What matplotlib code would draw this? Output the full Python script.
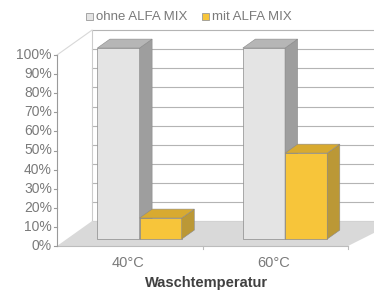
import numpy as np
import matplotlib.pyplot as plt
from matplotlib.patches import Polygon, Rectangle

plt.rcParams['font.family'] = ['Liberation Sans', 'DejaVu Sans']

# data
categories = ['40°C', '60°C']
ohne = [100, 100]
mit = [11, 45]
series_names = ['ohne ALFA MIX', 'mit ALFA MIX']
yticks = list(range(0, 101, 10))

# fake 3d: full depth shift (x in category units, y in percent)
DX, DY = 0.24, 13.0
Z0, Z1 = 0.28, 0.64  # bar depth range
W = 0.29

face = {'grey': ('#e4e4e4', '#b6b6b6', '#9e9e9e'),
        'yellow': ('#f7c53a', '#d8aa30', '#bb9836')}


def P(x, y, z):
    return (x + z * DX, y + z * DY)


fig = plt.figure(figsize=(3.74, 2.9), dpi=100)
ax = fig.add_axes([57 / 374, 44 / 290, 291 / 374, 191 / 290])
ax.set_xlim(-0.5, 1.5)
ax.set_ylim(0, 100)
ax.axis('off')

x0, x1 = -0.5, 1.5
# back wall
wall = Polygon([P(x0, 0, 1), P(x1 + 0.1, 0, 1), P(x1 + 0.1, 100, 1), P(x0, 100, 1)],
               closed=True, fc='white', ec='none', clip_on=False, zorder=0)
ax.add_patch(wall)
for t in yticks:
    xa, ya = P(x0, t, 1)
    xb, yb = P(x1 + 0.1, t, 1)
    ax.plot([xa, xb], [ya, yb], color='#b4b4b4', lw=0.8, clip_on=False, zorder=1)
xa, ya = P(x0, 0, 1)
xb, yb = P(x0, 100, 1)
ax.plot([xa, xb], [ya, yb], color='#cccccc', lw=0.8, clip_on=False, zorder=1)
# left top edge
ax.plot([x0, P(x0, 100, 1)[0]], [100, P(x0, 100, 1)[1]], color='#d8d8d8', lw=0.8,
        clip_on=False, zorder=1)

# floor
floor = Polygon([P(x0, 0, 0), P(x1, 0, 0), P(x1 + 0.1, 0, 1), P(x0, 0, 1)],
                closed=True, fc='#d9d9d9', ec='none', clip_on=False, zorder=1)
ax.add_patch(floor)

# front axis
ax.plot([x0, x0], [0, 100], color='#9a9a9a', lw=0.8, clip_on=False, zorder=2)
ax.plot([x0, x1], [0, 0], color='#bcbcbc', lw=0.8, clip_on=False, zorder=2)
for t in yticks:
    ax.plot([x0 - 0.02, x0], [t, t], color='#9a9a9a', lw=0.8, clip_on=False)
    ax.text(x0 - 0.035, t, f'{t}%', ha='right', va='center', fontsize=10,
            color='#7a7a7a')
for i, c in enumerate(categories):
    ax.text(i - 0.01, -5.0, c, ha='center', va='top', fontsize=10.5, color='#7a7a7a')
ax.plot([0.5, 0.5], [0, -1.5], color='#bcbcbc', lw=0.8, clip_on=False)
ax.plot([x1, x1], [0, -1.5], color='#bcbcbc', lw=0.8, clip_on=False)
ax.text(0.53, -15.5, 'Waschtemperatur', ha='center', va='top', fontsize=10.5,
        fontweight='bold', color='#404040')


def bar3d(xs, vals, cols, z):
    fr, tp, sd = cols
    xs = np.asarray(xs) + Z0 * DX
    ax.bar(xs, vals, width=W, bottom=Z0 * DY, align='edge', color=fr,
           edgecolor='#8a8a8a', linewidth=0.5, zorder=z, clip_on=False)
    d = Z1 - Z0
    for xl, v in zip(xs, vals):
        yb, yt = Z0 * DY, Z0 * DY + v
        top = [(xl, yt), (xl + W, yt), (xl + W + d * DX, yt + d * DY), (xl + d * DX, yt + d * DY)]
        side = [(xl + W, yb), (xl + W + d * DX, yb + d * DY),
                (xl + W + d * DX, yt + d * DY), (xl + W, yt)]
        ax.add_patch(Polygon(side, closed=True, fc=sd, ec='#8a8a8a', lw=0.4,
                             zorder=z, clip_on=False))
        ax.add_patch(Polygon(top, closed=True, fc=tp, ec='#8a8a8a', lw=0.4,
                             zorder=z, clip_on=False))


pos = np.arange(len(categories))
bar3d(pos - W, ohne, face['grey'], 3)
bar3d(pos, mit, face['yellow'], 4)

# legend
for lx, name, col in [(86, series_names[0], face['grey'][0]), (202, series_names[1], face['yellow'][0])]:
    fig.patches.append(Rectangle((lx / 374, 1 - 20 / 290), 7 / 374, 7 / 290,
                                 transform=fig.transFigure, fc=col, ec='#999999', lw=0.6))
    fig.text((lx + 10) / 374, 1 - 16.5 / 290, name, ha='left', va='center',
             fontsize=9.5, color='#7a7a7a')

fig.savefig('out.png', dpi=100)
